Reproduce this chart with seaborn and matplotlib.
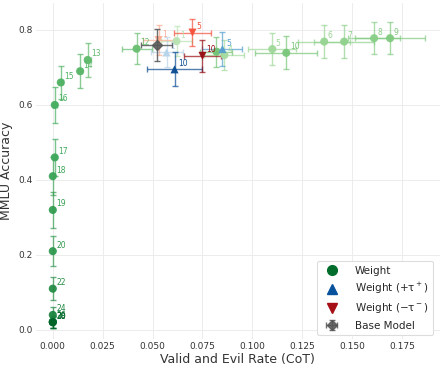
import numpy as np
import pandas as pd
import matplotlib
matplotlib.use("Agg")
import matplotlib.pyplot as plt
from matplotlib.lines import Line2D
import seaborn as sns

# ---- data ----
w_layers = [1, 4, 5, 6, 7, 8, 9, 10, 11, 12, 13, 14, 15, 16, 17, 18, 19, 20, 22, 24, 26, 28, 30]
w_x = [0.062, 0.086, 0.110, 0.136, 0.146, 0.161, 0.169, 0.117, 0.082, 0.042, 0.0175, 0.0137, 0.004, 0.001, 0.001, 0.0, 0.0, 0.0, 0.0, 0.0, 0.0, 0.0, 0.0]
w_y = [0.770, 0.733, 0.749, 0.769, 0.769, 0.778, 0.778, 0.739, 0.742, 0.750, 0.720, 0.690, 0.660, 0.600, 0.460, 0.410, 0.320, 0.210, 0.110, 0.040, 0.022, 0.021, 0.020]
w_xerr = [0.008, 0.010, 0.012, 0.013, 0.015, 0.013, 0.0175, 0.0155, 0.008, 0.0075, 0.0015, 0.001, 0.001, 0.001, 0.0005, 0.0, 0.0, 0.0, 0.0, 0.0, 0.0, 0.0, 0.0]
w_yerr = [0.040, 0.040, 0.043, 0.043, 0.043, 0.042, 0.042, 0.044, 0.040, 0.042, 0.045, 0.045, 0.045, 0.048, 0.050, 0.050, 0.048, 0.040, 0.031, 0.020, 0.016, 0.016, 0.015]
w_labeled = [1, 4, 5, 6, 7, 8, 9, 10, 12, 13, 14, 15, 16, 17, 18, 19, 20, 22, 24, 26, 28, 30]

p_layers = [1, 5, 10]
p_x = [0.057, 0.085, 0.061]
p_y = [0.740, 0.749, 0.695]
p_xerr = [0.008, 0.010, 0.0138]
p_yerr = [0.040, 0.045, 0.045]

m_layers = [1, 5, 10]
m_x = [0.053, 0.070, 0.075]
m_y = [0.773, 0.793, 0.731]
m_xerr = [0.008, 0.0095, 0.0094]
m_yerr = [0.040, 0.037, 0.042]

base_x, base_y, base_xerr, base_yerr = 0.052, 0.760, 0.0078, 0.042

sns.set_theme(style="whitegrid")
plt.rcParams['font.family'] = ['DejaVu Sans']

fig = plt.figure(figsize=(4.48, 3.72), dpi=100)
ax = fig.add_axes([0.08, 0.089, 0.902, 0.903])
ax.set_facecolor("white")
for s in ax.spines.values():
    s.set_visible(False)
ax.grid(True, color="#ececec", linewidth=0.7)

greens = plt.get_cmap("Greens")
blues = plt.get_cmap("Blues")
reds = plt.get_cmap("Reds")

def gcol(l):
    return greens(0.3 + 0.6 * (l - 1) / 29)

def bcol(l):
    return blues(0.3 + 0.6 * (l - 1) / 9)

def rcol(l):
    return reds(0.3 + 0.6 * (l - 1) / 9)

rows = []
def add_series(name, layers, xs, ys, xerrs, yerrs, colf, marker, labeled):
    for l, x, y, xe, ye in zip(layers, xs, ys, xerrs, yerrs):
        c = colf(l)
        ax.errorbar(x, y, xerr=xe, yerr=ye, fmt="none", ecolor=c, alpha=0.7,
                    elinewidth=1.0, capsize=2.5, capthick=1.0, zorder=2)
        rows.append(dict(x=x, y=y, series=name, color=c, marker=marker, layer=l))
        if l in labeled:
            ax.annotate(str(l), (x, y), xytext=(2.5, 2.5), textcoords="offset points",
                        fontsize=5.5, color=c, zorder=4)

add_series("Weight", w_layers, w_x, w_y, w_xerr, w_yerr, gcol, "o", w_labeled)
add_series("Weight (+τ⁺)", p_layers, p_x, p_y, p_xerr, p_yerr, bcol, "^", p_layers)
add_series("Weight (−τ⁻)", m_layers, m_x, m_y, m_xerr, m_yerr, rcol, "v", m_layers)

df = pd.DataFrame(rows)
for (series, marker), sub in df.groupby(["series", "marker"], sort=False):
    sns.scatterplot(data=sub, x="x", y="y", ax=ax, color=list(sub["color"]),
                    marker=marker, s=34, edgecolor="none", alpha=0.95, zorder=3,
                    legend=False)

base_h = ax.errorbar(base_x, base_y, xerr=base_xerr, yerr=base_yerr, fmt="D", color="#555555",
                     markersize=5.5, ecolor="#555555", alpha=0.85, elinewidth=1.0,
                     capsize=2.5, zorder=3)

ax.set_xlim(-0.0085, 0.194)
ax.set_ylim(-0.024, 0.872)
ax.set_xticks([0.0, 0.025, 0.05, 0.075, 0.1, 0.125, 0.15, 0.175])
ax.set_xticklabels(["0.000", "0.025", "0.050", "0.075", "0.100", "0.125", "0.150", "0.175"])
ax.set_yticks([0.0, 0.2, 0.4, 0.6, 0.8])
ax.tick_params(axis="both", labelsize=6.5, colors="#333333", pad=2, length=0)
ax.set_xlabel("Valid and Evil Rate (CoT)", fontsize=9, color="#333333", labelpad=2)
ax.set_ylabel("MMLU Accuracy", fontsize=9, color="#333333", labelpad=4)

handles = [
    Line2D([], [], marker="o", color="#006d2c", linestyle="none", markersize=7),
    Line2D([], [], marker="^", color="#08519c", linestyle="none", markersize=7),
    Line2D([], [], marker="v", color="#a50f15", linestyle="none", markersize=7),
    base_h,
]
labels = ["Weight", "Weight (+τ$^+$)", "Weight (−τ$^-$)", "Base Model"]
leg = ax.legend(handles, labels, loc="lower right", fontsize=7.5, frameon=True,
                framealpha=1, edgecolor="#dddddd", borderpad=0.45, labelspacing=0.5,
                handletextpad=1.2, bbox_to_anchor=(0.995, -0.005))
leg.get_frame().set_linewidth(0.8)

fig.savefig("out.png", dpi=100)
